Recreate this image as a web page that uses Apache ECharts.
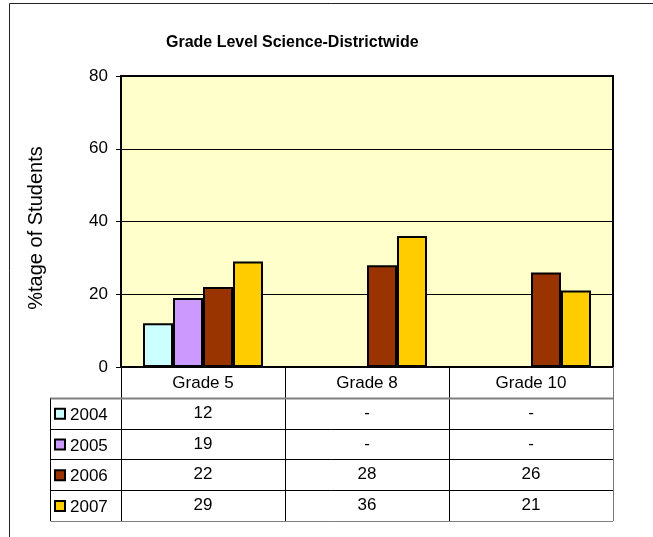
<!DOCTYPE html>
<html><head><meta charset="utf-8">
<script src="https://cdn.jsdelivr.net/npm/echarts@6/dist/echarts.min.js"></script>
<style>html,body{margin:0;padding:0;background:#fff}#c{width:653px;height:537px}</style>
</head><body><div id="c"></div>
<script>
const categories = ['Grade 5', 'Grade 8', 'Grade 10'];
const years = ['2004', '2005', '2006', '2007'];
const v2004 = [12, null, null];
const v2005 = [19, null, null];
const v2006 = [22, 28, 26];
const v2007 = [29, 36, 21];
const yTicks = [0, 20, 40, 60, 80];
const seriesValues = [v2004, v2005, v2006, v2007];
const colors = ['#CCFFFF', '#CC99FF', '#993300', '#FFCC00'];
const FONT = '"Liberation Sans", Arial, sans-serif';

const chart = echarts.init(document.getElementById('c'), null, {renderer: 'canvas'});
chart.setOption({
  animation: false,
  title: {
    text: 'Grade Level Science-Districtwide', left: 161, top: 30,
    textStyle: {fontFamily: FONT, fontSize: 16, fontWeight: 'bold', color: '#000'}
  },
  grid: {left: 121, top: 76, width: 492, height: 291, show: true,
         backgroundColor: '#FFFFCC', borderColor: '#000', borderWidth: 2},
  xAxis: {
    type: 'category', data: categories,
    axisLabel: {show: false}, axisTick: {show: false},
    axisLine: {lineStyle: {color: '#000', width: 2}}
  },
  yAxis: {
    type: 'value', min: yTicks[0], max: yTicks[yTicks.length - 1], interval: yTicks[1] - yTicks[0],
    axisLine: {show: true, lineStyle: {color: '#000', width: 2}},
    axisTick: {show: true, length: 5, lineStyle: {color: '#000'}},
    splitLine: {lineStyle: {color: '#000', width: 1}},
    axisLabel: {fontFamily: FONT, fontSize: 17, color: '#000', margin: 13}
  },
  series: years.map((y, i) => ({
    name: y, type: 'bar', data: seriesValues[i], barWidth: 30, barGap: '0%',
    itemStyle: {color: colors[i], borderColor: '#000', borderWidth: 2}
  }))
});

// Data table under the plot, aligned to the category axis
const c0 = chart.convertToPixel({xAxisIndex: 0}, 0);
const c1 = chart.convertToPixel({xAxisIndex: 0}, 1);
const band = c1 - c0;
const gLeft = c0 - band / 2;
const gRight = gLeft + band * categories.length;
const yBot = chart.convertToPixel({yAxisIndex: 0}, 0);
const rh = 30.8;
const tLeft = 50.5;
const g = [];
g.push({type: 'rect', shape: {x: 9.5, y: 3.5, width: 800, height: 800},
        style: {fill: null, stroke: '#222', lineWidth: 1}, z: 0});
g.push({type: 'text', x: 36, y: 228, rotation: Math.PI / 2, z: 11,
        style: {text: '%tage of Students', fontFamily: FONT, fontSize: 20, fill: '#000',
                align: 'center', verticalAlign: 'middle'}});
const line = (x1, y1, x2, y2, color, w) => g.push({type: 'line',
  shape: {x1, y1, x2, y2}, style: {stroke: color, lineWidth: w}, z: 10});
for (let k = 0; k <= categories.length; k++) {
  const x = Math.round(gLeft + k * band) + 0.5;
  line(x, yBot, x, yBot + rh * (years.length + 1), k === categories.length ? '#777' : '#000', 1);
}
line(tLeft, yBot + rh, tLeft, yBot + rh * (years.length + 1), '#000', 1);
for (let r = 1; r <= years.length + 1; r++) {
  const y = Math.round(yBot + r * rh) + 0.5;
  const gray = (r === 1 || r === years.length + 1);
  line(tLeft, y, gRight, y, gray ? '#808080' : '#000', r === 1 ? 2 : 1);
}
const txt = (x, y, text, align) => g.push({type: 'text', x, y, z: 11,
  style: {text, fontFamily: FONT, fontSize: 17, fill: '#000', align, verticalAlign: 'middle'}});
categories.forEach((c, i) => txt(gLeft + band * (i + 0.5), yBot + rh / 2 + 1, c, 'center'));
years.forEach((y, r) => {
  const cy = yBot + rh * (r + 1.5) + 1;
  g.push({type: 'rect', shape: {x: 55, y: cy - 5.5, width: 10, height: 10},
          style: {fill: colors[r], stroke: '#000', lineWidth: 2}, z: 11});
  txt(70, cy + 1, y, 'left');
  seriesValues[r].forEach((v, i) => txt(gLeft + band * (i + 0.5), cy - 1, v == null ? '-' : String(v), 'center'));
});
chart.setOption({graphic: g});
</script></body></html>
